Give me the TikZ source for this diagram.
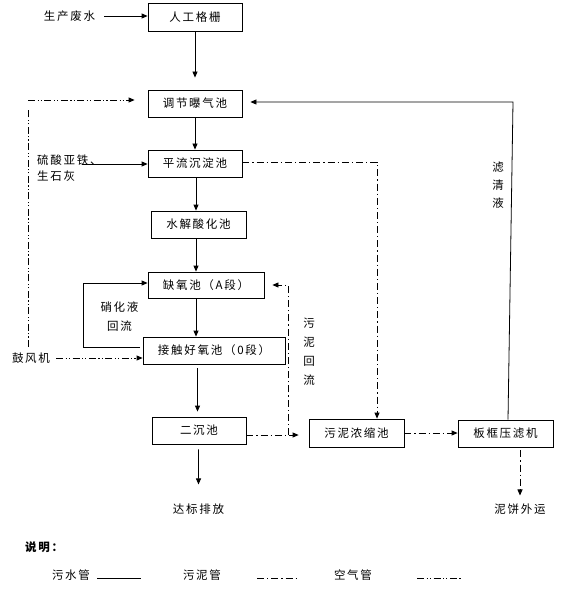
\documentclass[tikz,border=0pt]{standalone}
\usepackage{fontspec}
\setmainfont{Noto Sans CJK SC}[LetterSpace=15]
\usetikzlibrary{arrows.meta}
\begin{document}
\begin{tikzpicture}[x=1bp,y=-1bp,
  font=\fontsize{11.5bp}{14bp}\selectfont,
  box/.style={draw, line width=0.8bp, minimum height=27bp, inner sep=0pt},
  lbl/.style={inner sep=0pt},
  ln/.style={line width=0.8bp},
  arr/.style={line width=0.8bp, -{Triangle[length=6bp,width=5bp]}},
  sl/.style={dash pattern=on 7bp off 3bp on 1.2bp off 3bp},
  air/.style={dash pattern=on 7bp off 2.5bp on 1.2bp off 2bp on 1.2bp off 2.5bp}]
\useasboundingbox (0,0) rectangle (584,593);
% process boxes
\node[box, minimum width=94bp, minimum height=28bp] (g1) at (195,17) {人工格栅};
\node[box, minimum width=94bp] (g2) at (195,103.5) {调节曝气池};
\node[box, minimum width=94bp] (g3) at (195,163.5) {平流沉淀池};
\node[box, minimum width=95bp] (g4) at (198.5,224.5) {水解酸化池};
\node[box, minimum width=116bp, minimum height=26bp] (g5) at (206,285) {缺氧池（A段）};
\node[box, minimum width=142bp] (g6) at (214,350.5) {接触好氧池（0段）};
\node[box, minimum width=94bp] (g7) at (199,430.5) {二沉池};
\node[box, minimum width=95bp, minimum height=28bp] (g8) at (356.5,433) {污泥浓缩池};
\node[box, minimum width=95bp] (g9) at (505.5,433.5) {板框压滤机};
% labels
\node[lbl] (src) at (69.5,16) {生产废水};
\node[lbl, align=left, anchor=west, font=\fontsize{11.5bp}{16bp}\selectfont] (chem) at (37,168) {硫酸亚铁、\\生石灰};
\node[lbl] (fan) at (31,358) {鼓风机};
\node[lbl, align=center, font=\fontsize{11.5bp}{19bp}\selectfont] (nit) at (119.5,316.5) {硝化液\\回流};
\node[lbl, align=center, font=\fontsize{11.5bp}{19bp}\selectfont] (slr) at (309,351.5) {污\\泥\\回\\流};
\node[lbl, align=center, font=\fontsize{11.5bp}{18bp}\selectfont] (flt) at (498,185) {滤\\清\\液};
\node[lbl] (out) at (198.5,509) {达标排放};
\node[lbl] (cake) at (520,509) {泥饼外运};
\node[lbl, anchor=west, font=\fontsize{11.5bp}{14bp}\selectfont\bfseries] (note) at (25,547) {说明：};
\node[lbl] (k1) at (71,575) {污水管};
\node[lbl] (k2) at (202,575) {污泥管};
\node[lbl] (k3) at (353,575) {空气管};
% main flow
\draw[arr, shorten <=9bp] (src) -- (src -| g1.west);
\draw[arr, shorten >=12bp] (g1) -- (g2);
\draw[arr] (g2) -- (g3);
\draw[arr] ([xshift=1bp]g3.south) -- ([xshift=1bp]g3.south |- g4.north);
\draw[arr] ([xshift=-2.5bp]g4.south) -- ([xshift=-2.5bp]g4.south |- g5.north);
\draw[arr] ([xshift=-10bp]g5.south) -- ([xshift=-10bp]g5.south |- g6.north);
\draw[arr, shorten <=4bp, shorten >=5bp] ([xshift=-16.5bp]g6.south) -- ([xshift=-16.5bp]g6.south |- g7.north);
\draw[arr, shorten <=5bp, shorten >=19bp] ([xshift=-0.5bp]g7.south) -- (out);
% chemicals
\coordinate (c0) at (82,164);
\draw[arr] (c0) -- (c0 -| g3.west);
% air
\coordinate (a0) at (28,347);
\coordinate (a1) at (28,108);
\coordinate (a2) at (28,100);
\draw[ln, air] (a0) -- (a1);
\draw[arr, air, shorten >=13bp] (a2) -- (a2 -| g2.west);
\draw[arr, air, shorten <=6bp] (fan) -- (fan -| g6.west);
% nitrate recycle
\coordinate (n0) at (140,347);
\coordinate (n1) at (83,283);
\draw[arr] (n0) -| (n1) -- (n1 -| g5.west);
% sludge
\coordinate (j1) at (288,435);
\coordinate (j2) at (288,285);
\draw[arr, sl, shorten >=10bp] (g7.east |- j1) -- (j1 -| g8.west);
\draw[arr, sl, shorten >=8bp] (j1) -- (j2) -- (j2 -| g5.east);
\draw[arr, sl] ([yshift=1.5bp]g3.east) -| ([xshift=20.5bp]g8.north);
\draw[arr, sl] (g8.east) -- (g8.east -| g9.west);
\draw[arr, sl, shorten <=3bp, shorten >=8bp] (g9.south -| cake) -- (cake);
% filtrate return
\coordinate (f1) at (513,102);
\draw[arr, shorten >=8bp] ([xshift=2.5bp]g9.north) -- (f1) -- (f1 -| g2.east);
% legend
\draw[ln] ([xshift=7bp,yshift=-3bp]k1.east) -- ++(44,0);
\draw[ln, sl] ([xshift=36bp,yshift=-3bp]k2.east) -- ++(42,0);
\draw[ln, air] ([xshift=45bp,yshift=-3bp]k3.east) -- ++(45,0);
\end{tikzpicture}
\end{document}
